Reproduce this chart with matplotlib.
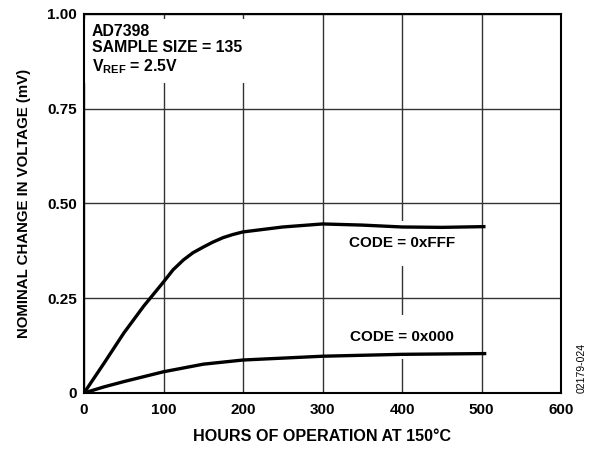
import matplotlib
matplotlib.use("Agg")
import matplotlib.pyplot as plt

# curve readings (hours, mV)
hours_fff = [0, 25, 50, 75, 100, 112, 125, 137, 150, 162, 175, 187, 200, 250, 300, 350, 400, 450, 505]
change_fff = [0, 0.078, 0.158, 0.229, 0.293, 0.325, 0.351, 0.37, 0.385, 0.398, 0.41, 0.418, 0.425,
              0.438, 0.446, 0.443, 0.438, 0.437, 0.439]

hours_000 = [0, 25, 50, 75, 100, 150, 200, 250, 300, 400, 506]
change_000 = [0, 0.016, 0.03, 0.043, 0.056, 0.076, 0.087, 0.092, 0.097, 0.102, 0.104]

x_ticks = [0, 100, 200, 300, 400, 500, 600]
y_ticks = [0, 0.25, 0.50, 0.75, 1.00]
y_tick_labels = ["0", "0.25", "0.50", "0.75", "1.00"]

plt.rcParams["font.family"] = ["Liberation Sans", "DejaVu Sans"]
plt.rcParams["font.weight"] = "bold"
plt.rcParams["mathtext.fontset"] = "custom"
plt.rcParams["mathtext.bf"] = "Liberation Sans:bold"
plt.rcParams["mathtext.rm"] = "Liberation Sans:bold"

fig = plt.figure(figsize=(5.95, 4.5), dpi=100)
ax = fig.add_axes([0.1412, 0.1267, 0.8017, 0.8422])

ax.plot(hours_fff, change_fff, color="black", lw=2.4, zorder=5, solid_capstyle="butt")
ax.plot(hours_000, change_000, color="black", lw=2.4, zorder=5, solid_capstyle="butt")

ax.set_xlim(0, 600)
ax.set_ylim(0, 1.0)
ax.set_xticks(x_ticks)
ax.set_yticks(y_ticks)
ax.set_yticklabels(y_tick_labels)
ax.tick_params(length=0, labelsize=11)
ax.tick_params(axis="y", pad=5)
ax.tick_params(axis="x", pad=7)
ax.grid(True, color="#333333", lw=1.0, zorder=1)
ax.set_axisbelow(True)
for s in ax.spines.values():
    s.set_linewidth(1.5)
    s.set_zorder(6)

ax.set_xlabel("HOURS OF OPERATION AT 150°C", fontsize=11.6, fontweight="bold", labelpad=9)
ax.set_ylabel("NOMINAL CHANGE IN VOLTAGE (mV)", fontsize=10.8, fontweight="bold", labelpad=12)

ax.text(10, 0.974, "AD7398\nSAMPLE SIZE = 135\n" + r"$\mathbf{V_{REF}}$ = 2.5V",
        fontsize=11.4, fontweight="bold", va="top", ha="left", linespacing=1.12,
        bbox=dict(facecolor="white", edgecolor="none", pad=5), zorder=3)

ax.text(400, 0.395, "CODE = 0xFFF", fontsize=11, fontweight="bold", ha="center", va="center",
        bbox=dict(facecolor="white", edgecolor="none", pad=11), zorder=3)
ax.text(400, 0.148, "CODE = 0x000", fontsize=11, fontweight="bold", ha="center", va="center",
        bbox=dict(facecolor="white", edgecolor="none", pad=11), zorder=3)

fig.text(0.978, 0.182, "02179-024", fontsize=7.5, fontweight="normal", rotation=90,
         ha="center", va="center")

fig.savefig("out.png", dpi=100)
